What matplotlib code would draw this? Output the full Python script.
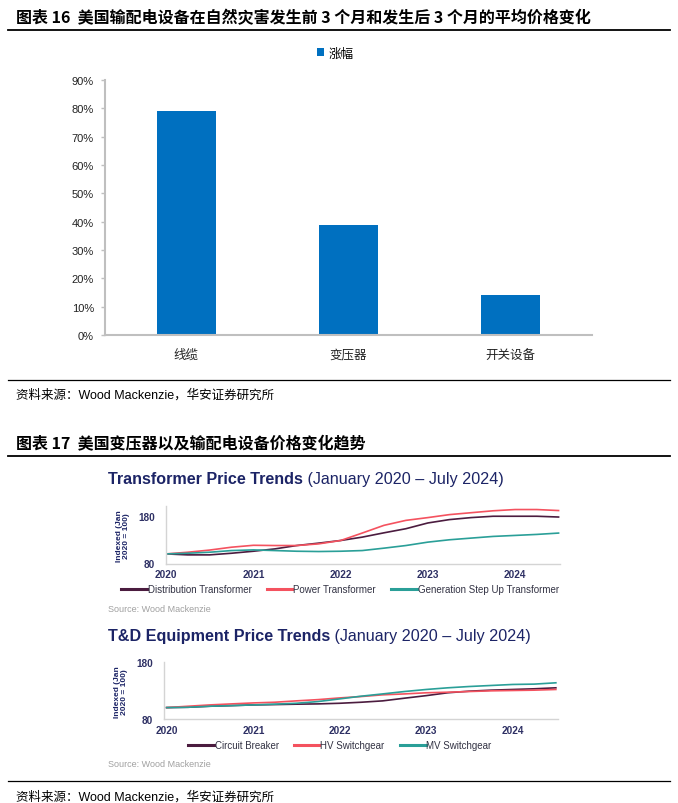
import pandas as pd
import matplotlib.pyplot as plt
import matplotlib.dates as mdates
from matplotlib.lines import Line2D
from matplotlib.text import Annotation

plt.rcParams['font.family'] = ['Liberation Sans', 'Noto Sans CJK SC', 'DejaVu Sans']

# ---- data: chart 16 (bar) ----
categories = ["线缆", "变压器", "开关设备"]
rise = [0.79, 0.39, 0.14]

# ---- data: chart 17 (quarterly readings, Jan 2020 - Jul 2024) ----
quarters = pd.date_range("2020-01-01", "2024-07-01", freq="QS")
distribution_tf = [100, 98, 98, 101.4, 105.6, 110.5, 117.5, 122.5, 128, 135, 144, 152.6,
                   164.6, 171.6, 175.8, 178.6, 178.6, 178.6, 177]
power_tf = [100, 103.5, 108, 114, 118, 117.5, 117.5, 121, 128, 143.5, 159.6, 170,
            175.8, 182, 186, 190, 192.6, 192.6, 190.5]
gsu_tf = [100, 101.4, 103.5, 107, 108.4, 107, 105.6, 105, 105.6, 107, 112, 117.5,
          124.6, 129.5, 133, 136.5, 138.6, 140.7, 143.5]
circuit_breaker = [100, 100.6, 102.4, 103.5, 104.7, 105.3, 106, 106.5, 107.6, 109.4, 111.8, 116.5,
                   121, 126, 128.8, 130.6, 131.8, 133, 134.7]
hv_switchgear = [100, 102.4, 104.7, 106.5, 108.2, 109.4, 111.8, 114, 117, 119.4, 122.4, 124,
                 126, 127, 128.2, 129.4, 130, 130.6, 131.8]
mv_switchgear = [100, 100.6, 102.4, 103.5, 104.7, 106, 107.6, 110.6, 115.3, 120, 124, 128.2,
                 131.8, 134.7, 137, 138.8, 140.6, 141.2, 143.5]

W, H = 678, 804
fig = plt.figure(figsize=(W / 100, H / 100), dpi=100)


def fx(x):
    return x / W


def fy(y):
    return 1 - y / H


def rule(y, lw):
    fig.add_artist(Line2D([fx(8), fx(670)], [fy(y), fy(y)], color="black", lw=lw,
                          transform=fig.transFigure))


cjk = ['Noto Sans CJK SC', 'Liberation Sans']
latin = ['Liberation Sans', 'Noto Sans CJK SC']
BLUE = "#0070c0"
NAVY = "#1c2466"
MAROON = "#4b1c3f"
RED = "#f4525f"
TEAL = "#2a9f98"

# ---- header 16 ----
fig.text(fx(16), fy(18), "图表 16  美国输配电设备在自然灾害发生前 3 个月和发生后 3 个月的平均价格变化",
         fontsize=11.5, fontweight="bold", family=cjk, va="center", ha="left")
rule(31, 1.3)

# ---- bar chart ----
ax1 = fig.add_axes([fx(105), fy(336), fx(592) - fx(105), fy(81) - fy(336)])
ax1.bar(range(len(categories)), rise, width=0.363, color=BLUE, label="涨幅")
ax1.set_xlim(-0.5, 2.5)
ax1.set_ylim(0, 0.9)
ax1.set_yticks([i / 10 for i in range(10)])
ax1.set_yticklabels([f"{i * 10}%" for i in range(10)], fontsize=8, color="#222222")
ax1.set_xticks(range(len(categories)))
ax1.set_xticklabels(categories, family=cjk, fontsize=9, color="#222222")
ax1.tick_params(axis="x", length=0, pad=9)
ax1.tick_params(axis="y", length=3, width=1, color="#bfbfbf", pad=5)
for s in ["top", "right"]:
    ax1.spines[s].set_visible(False)
for s in ["left", "bottom"]:
    ax1.spines[s].set_color("#bfbfbf")
    ax1.spines[s].set_linewidth(1.5)
ax1.legend(loc="center", bbox_to_anchor=(fx(335), fy(54)), bbox_transform=fig.transFigure,
           frameon=False, handlelength=0.6, handleheight=0.6, handletextpad=0.3,
           prop={"family": cjk, "size": 9})

rule(381, 0.9)
fig.text(fx(16), fy(395), "资料来源：Wood Mackenzie，华安证券研究所", fontsize=9, family=latin,
         va="center", ha="left")

# ---- header 17 ----
fig.text(fx(16), fy(444), "图表 17  美国变压器以及输配电设备价格变化趋势",
         fontsize=11.5, fontweight="bold", family=cjk, va="center", ha="left")
rule(457, 1.3)


def trend_panel(title_y, box, ylim, y_label_xy, series, legend_y, source_y, xright):
    t1 = fig.text(fx(108), fy(title_y), box[0], fontsize=11.6, fontweight="bold",
                  color=NAVY, va="center", ha="left")
    fig.add_artist(Annotation(" (January 2020 \u2013 July 2024)", xy=(1, 0.5), xycoords=t1,
                              va="center", ha="left", fontsize=11.6, color=NAVY))
    left, right, top, bottom = box[1]
    ax = fig.add_axes([fx(left), fy(bottom), fx(right) - fx(left), fy(top) - fy(bottom)])
    for name, vals, col in series:
        ax.plot(quarters, vals, color=col, lw=1.2, label=name)
    ax.set_ylim(*ylim)
    ax.set_yticks([80, 180])
    ax.set_xlim(pd.Timestamp("2020-01-01") - pd.Timedelta(days=box[2]), pd.Timestamp(xright))
    ax.xaxis.set_major_locator(mdates.YearLocator())
    ax.xaxis.set_major_formatter(mdates.DateFormatter("%Y"))
    ax.tick_params(length=0, labelsize=7.2, labelcolor="#2e3064")
    ax.tick_params(axis="y", pad=8)
    ax.tick_params(axis="x", pad=4)
    for lab in ax.get_xticklabels() + ax.get_yticklabels():
        lab.set_fontweight("bold")
    for s in ["top", "right"]:
        ax.spines[s].set_visible(False)
    for s in ["left", "bottom"]:
        ax.spines[s].set_color("#d4d4d4")
        ax.spines[s].set_linewidth(1)
    fig.text(fx(y_label_xy[0]), fy(y_label_xy[1]), "Indexed (Jan\n2020 = 100)", rotation=90,
             fontsize=6, fontweight="bold", color=NAVY, ha="center", va="center",
             multialignment="center", linespacing=1.1)
    ax.legend(loc="center", bbox_to_anchor=(fx(340), fy(legend_y)), bbox_transform=fig.transFigure,
              ncol=3, frameon=False, handlelength=2.6, handletextpad=0.1, columnspacing=1.6,
              prop={"size": 7}, labelcolor="#333344")
    for ln in ax.get_legend().get_lines():
        ln.set_linewidth(2.2)
    fig.text(fx(108), fy(source_y), "Source: Wood Mackenzie", fontsize=6.5, color="#a0a0a0",
             va="center", ha="left")
    return ax


trend_panel(480, ("Transformer Price Trends", (166, 560, 507, 564.5), 0), (80, 200), (123, 536),
            [("Distribution Transformer", distribution_tf, MAROON),
             ("Power Transformer", power_tf, RED),
             ("Generation Step Up Transformer", gsu_tf, TEAL)],
            590, 609, "2024-07-07")

trend_panel(637, ("T&D Equipment Price Trends", (164, 558, 663, 720), 11), (80, 180), (121, 692),
            [("Circuit Breaker", circuit_breaker, MAROON),
             ("HV Switchgear", hv_switchgear, RED),
             ("MV Switchgear", mv_switchgear, TEAL)],
            746, 765, "2024-07-10")

rule(782, 0.9)
fig.text(fx(16), fy(797), "资料来源：Wood Mackenzie，华安证券研究所", fontsize=9, family=latin,
         va="center", ha="left")

fig.savefig("out.png", dpi=100)
